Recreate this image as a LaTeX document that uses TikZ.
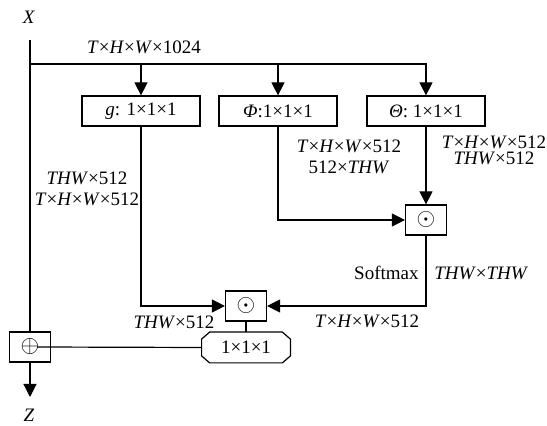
\documentclass[tikz,border=0pt]{standalone}
\usepackage{fontspec}
\setmainfont{Liberation Serif}
\usetikzlibrary{arrows.meta, positioning}
\newcommand{\thwd}{\textit{T}×\textit{H}×\textit{W}}
\newcommand{\thw}{\textit{THW}}
\begin{document}
\begin{tikzpicture}[
  x=0.5pt, y=-0.5pt,
  font=\fontsize{9.5}{10.5}\selectfont,
  blocco/.style={draw=black, line width=0.6pt, minimum width=59pt, minimum height=15pt,
                 inner sep=1pt},
  operatore/.style={draw=black, line width=0.6pt, minimum width=20.5pt, minimum height=15pt,
                 inner sep=0pt, font=\fontsize{12.5}{12.5}\selectfont},
  ottagono/.style={minimum width=44pt, minimum height=15pt, inner sep=1pt},
  linea/.style={draw=black, line width=0.6pt},
  freccia/.style={draw=black, line width=0.6pt, -{Triangle[length=6.5pt,width=6.5pt]}},
  didasc/.style={inner sep=1pt, align=center}
]
\useasboundingbox (0,0) rectangle (547,426);

\node[didasc] (ingx) at (29,17) {\textit{X}};
\node[didasc] (uscz) at (29,415) {\textit{Z}};
\coordinate (ingresso) at (30,40);
\coordinate (diram) at (30,64);
\coordinate (uscita) at (30,397);

\node[blocco] (gconv)     at (141,111) {\textit{g}: 1×1×1};
\node[blocco] (phiconv)   at (278,111) {\textit{Φ}:1×1×1};
\node[blocco] (thetaconv) at (426,111) {\textit{Θ}: 1×1×1};

\node[operatore] (prodsup) at (426,220) {$\odot$};
\node[operatore] (prodinf) at (246,306) {$\odot$};
\node[ottagono]  (wconv)   at (246,347.5) {1×1×1};
\node[operatore] (somma)   at (30,347) {$\oplus$};

% bordo ottagonale
\draw[linea] ([xshift=4pt]wconv.north west) -- ([xshift=-4pt]wconv.north east)
  -- ([yshift=-3.5pt]wconv.north east) -- ([yshift=3.5pt]wconv.south east)
  -- ([xshift=-4pt]wconv.south east) -- ([xshift=4pt]wconv.south west)
  -- ([yshift=3.5pt]wconv.south west) -- ([yshift=-3.5pt]wconv.north west) -- cycle;

% ramo di ingresso
\draw[linea] (ingresso) -- (somma.north);
\draw[freccia] (diram) -| (thetaconv.north);
\draw[freccia] (gconv.north |- diram) -- (gconv.north);
\draw[freccia] (phiconv.north |- diram) -- (phiconv.north);

% prodotti
\draw[freccia] (thetaconv.south) -- (prodsup.north);
\draw[freccia] (phiconv.south) |- (prodsup.west);
\draw[freccia] (prodsup.south) |- (prodinf.east);
\draw[freccia] (gconv.south) |- (prodinf.west);
\draw[linea] (prodinf.south) -- (wconv.north);
\draw[linea] (wconv.west) -- ([xshift=3.5pt]somma.center);
\draw[freccia] (somma.south) -- (uscita);

% dimensioni
\node[didasc] (dimx) at (144,47) {\thwd×1024};
\node[didasc] (dimg) at (87,189) {\thw×512\\\thwd×512};
\node[didasc] (dimphi) at (349,157) {\thwd×512\\512×\thw};
\node[didasc] (dimtheta) at (494,150) {\thwd×512\\[-2.5pt]\thw×512};
\node[didasc, anchor=east] (softmax) at (421,273) {Softmax};
\node[didasc, anchor=west] (dimsoft) at (432,273) {\thw×\thw};
\node[didasc] (dimsup) at (367,321) {\thwd×512};
\node[didasc] (diminf) at (174,322) {\thw×512};

\end{tikzpicture}
\end{document}
